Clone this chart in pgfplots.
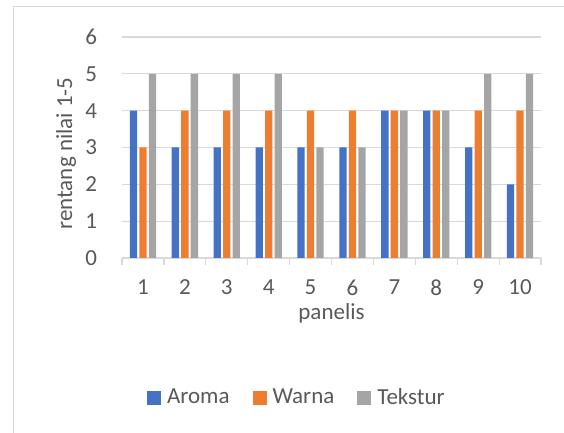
\documentclass[border=0pt]{standalone}
\usepackage{fontspec}
\setmainfont{Carlito}
\usepackage{pgfplots}
\pgfplotsset{compat=1.18}
\definecolor{cblue}{HTML}{4472C4}
\definecolor{corange}{HTML}{ED7D31}
\definecolor{cgray}{HTML}{A5A5A5}
\definecolor{ctext}{HTML}{595959}
\definecolor{cgrid}{HTML}{D9D9D9}
\begin{document}
\fontsize{23bp}{28bp}\selectfont
\begin{tikzpicture}[x=1bp,y=1bp]
\useasboundingbox (0,0) rectangle (564,433);
\draw[cgrid, line width=1.2bp] (13.5,-20) rectangle (620,426.5);
\begin{axis}[
    at={(122bp,175bp)}, anchor=south west,
    scale only axis,
    width=419bp, height=221bp,
    xmin=0.5, xmax=10.5,
    ymin=0, ymax=6,
    ybar=2.2bp, bar width=7.3bp,
    axis lines*=left,
    y axis line style={draw=none},
    x axis line style={draw=cgrid, line width=1.2bp},
    xtick={1,...,10},
    ytick={0,...,6},
    major tick length=0pt,
    extra x ticks={0.5,1.5,...,10.5},
    extra x tick labels={},
    extra x tick style={major tick length=7bp, tick style={draw=cgrid, line width=1.2bp}, tick align=outside, grid=none},
    ymajorgrids,
    major grid style={draw=cgrid, line width=1.2bp},
    tick label style={text=ctext},
    /pgf/number format/assume math mode=true,
    yticklabel style={anchor=east, xshift=-17bp},
    xticklabel style={anchor=north, yshift=-14bp},
    xlabel={panelis},
    xlabel style={text=ctext, at={(rel axis cs:0.5,0)}, anchor=center, yshift=-55bp},
    ylabel={rentang nilai 1-5},
    ylabel style={text=ctext, at={(rel axis cs:0,0.473)}, anchor=center, yshift=56bp},
    legend columns=3,
    legend style={draw=none, fill=none, at={(rel axis cs:0.415,-0.633)}, anchor=center,
        nodes={inner sep=0pt, text=ctext},
        /tikz/every odd column/.append style={column sep=6bp},
        /tikz/every even column/.append style={column sep=23bp}},
    legend image code/.code={\fill[#1] (0bp,-7bp) rectangle (14bp,7bp);},
]
\addplot[fill=cblue, draw=none] coordinates {(1,4) (2,3) (3,3) (4,3) (5,3) (6,3) (7,4) (8,4) (9,3) (10,2)};
\addplot[fill=corange, draw=none] coordinates {(1,3) (2,4) (3,4) (4,4) (5,4) (6,4) (7,4) (8,4) (9,4) (10,4)};
\addplot[fill=cgray, draw=none] coordinates {(1,5) (2,5) (3,5) (4,5) (5,3) (6,3) (7,4) (8,4) (9,5) (10,5)};
\legend{Aroma, Warna, Tekstur}
\end{axis}
\end{tikzpicture}
\end{document}
